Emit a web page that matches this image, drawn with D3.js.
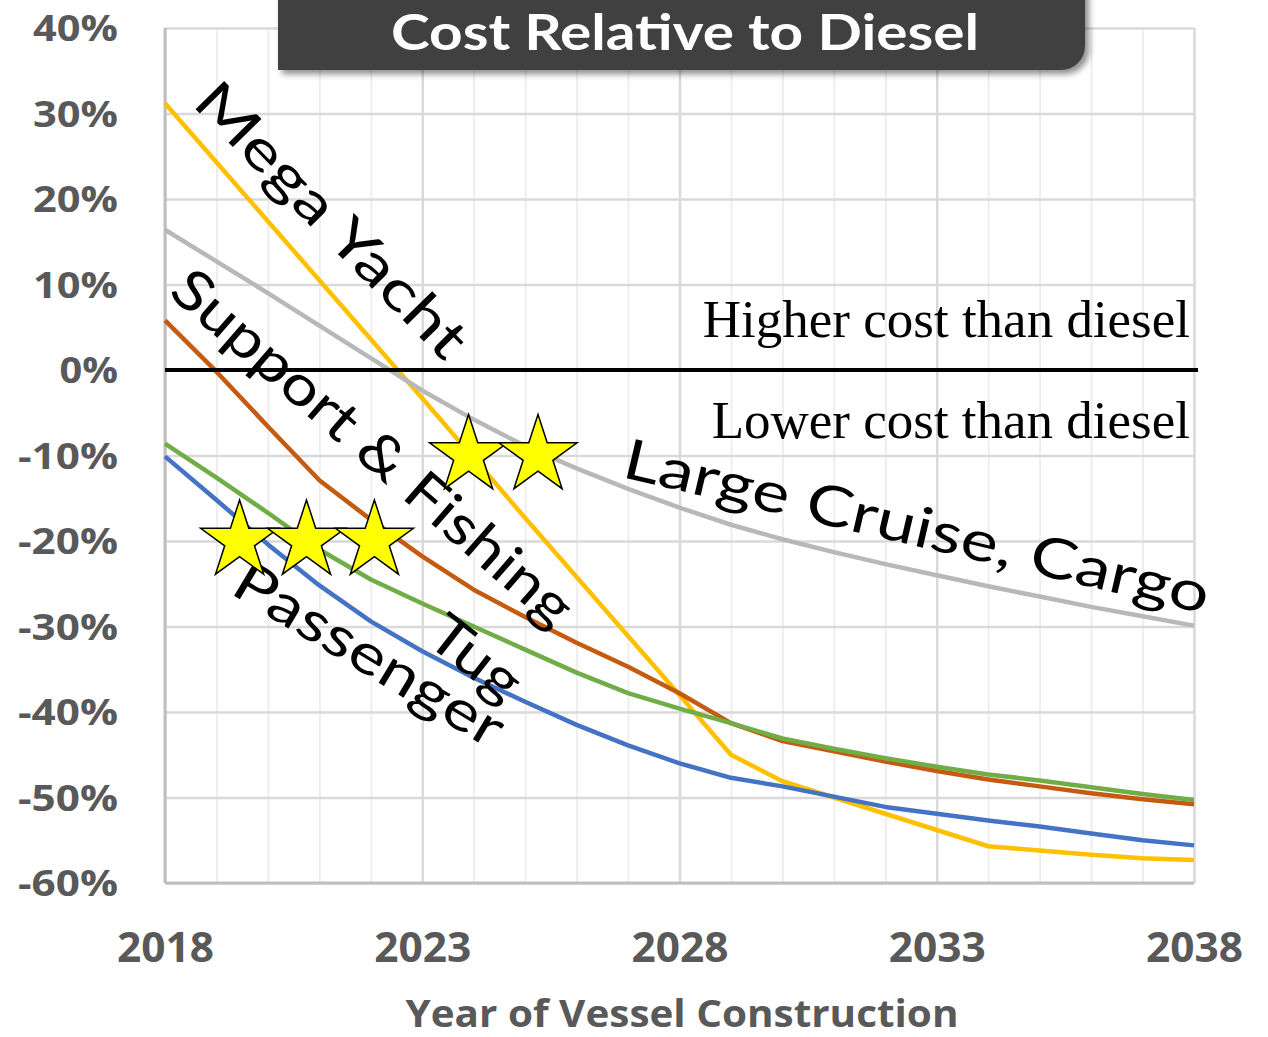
<!DOCTYPE html>
<html>
<head>
<meta charset="utf-8">
<script src="https://cdn.jsdelivr.net/npm/d3@7"></script>
<style>
  html, body { margin: 0; padding: 0; background: #fff; }
  svg { display: block; }
</style>
</head>
<body>
<svg id="chart" width="1268" height="1037"></svg>
<script>
// ---- data ----
const years = [2018, 2019, 2020, 2021, 2022, 2023, 2024, 2025, 2026, 2027, 2028,
               2029, 2030, 2031, 2032, 2033, 2034, 2035, 2036, 2037, 2038];
const megaYacht = [31.2, 24.3, 17.4, 10.5, 3.6, -3.3, -10.3, -17.3, -24.2, -31.1, -38.0,
                   -45.0, -48.1, -50.0, -51.9, -53.8, -55.7, -56.2, -56.7, -57.1, -57.3];
const largeCruiseCargo = [16.4, 12.7, 9.0, 5.2, 1.4, -2.4, -5.8, -8.9, -11.5, -13.9, -16.1,
                          -18.1, -19.8, -21.3, -22.7, -24.0, -25.3, -26.5, -27.7, -28.8, -29.9];
const supportFishing = [5.8, -0.2, -6.6, -12.9, -17.5, -21.8, -25.7, -28.9, -31.9, -34.7, -37.8,
                        -41.3, -43.4, -44.6, -45.8, -46.9, -47.9, -48.7, -49.5, -50.2, -50.8];
const tug = [-8.6, -12.6, -16.7, -21.0, -24.5, -27.3, -30.0, -32.7, -35.4, -37.8, -39.6,
             -41.3, -43.1, -44.3, -45.4, -46.4, -47.3, -48.0, -48.8, -49.6, -50.3];
const passenger = [-10.1, -15.2, -20.4, -25.2, -29.4, -32.9, -36.0, -38.8, -41.5, -43.9, -46.0,
                   -47.7, -48.7, -49.9, -51.1, -51.9, -52.7, -53.4, -54.2, -55.0, -55.6];

const yTicks = [40, 30, 20, 10, 0, -10, -20, -30, -40, -50, -60];
const xTicks = [2018, 2023, 2028, 2033, 2038];

// stars (year, value)
const starYears = [2023.9, 2025.25, 2019.45, 2020.75, 2022.07];
const starValues = [-10, -10, -20, -20, -20];

// ---- layout ----
const svg = d3.select("#chart");
const plotLeft = 165, plotRight = 1194, plotTop = 28, plotBottom = 883;

const x = d3.scaleLinear().domain([2018, 2038]).range([plotLeft, plotRight]);
const y = d3.scaleLinear().domain([-60, 40]).range([plotBottom, plotTop]);

// gridlines
svg.append("g")
  .attr("transform", `translate(0,${plotBottom})`)
  .call(d3.axisBottom(x).tickValues(years).tickSize(-(plotBottom - plotTop)).tickFormat(""))
  .call(g => g.select(".domain").remove())
  .selectAll("line")
  .attr("stroke", d => (d - 2018) % 5 === 0 ? "#d9d9d9" : "#eeeeee")
  .attr("stroke-width", d => (d - 2018) % 5 === 0 ? 2.5 : 2);

svg.append("g")
  .attr("transform", `translate(${plotLeft},0)`)
  .call(d3.axisLeft(y).tickValues(yTicks).tickSize(-(plotRight - plotLeft)).tickFormat(""))
  .call(g => g.select(".domain").remove())
  .selectAll("line")
  .attr("stroke", "#d9d9d9")
  .attr("stroke-width", 2.5);

// axis lines
svg.append("line").attr("x1", plotLeft).attr("x2", plotLeft).attr("y1", plotTop).attr("y2", plotBottom)
  .attr("stroke", "#bfbfbf").attr("stroke-width", 3);
svg.append("line").attr("x1", plotLeft).attr("x2", plotRight).attr("y1", plotBottom).attr("y2", plotBottom)
  .attr("stroke", "#bfbfbf").attr("stroke-width", 3);

// tick labels
const labelWidth = s => s.startsWith("-")
  ? 15 + 26.5 * (s.length - 2) + 32
  : 26.5 * (s.length - 1) + 32;

svg.append("g")
  .attr("transform", `translate(${plotLeft},0)`)
  .call(d3.axisLeft(y).tickValues(yTicks).tickSize(0).tickFormat(d => d + "%"))
  .call(g => g.select(".domain").remove())
  .selectAll("text")
  .attr("x", -47)
  .attr("dy", "0.36em")
  .attr("font-family", "'Open Sans', sans-serif")
  .attr("font-weight", 700)
  .attr("font-size", 35)
  .attr("fill", "#595959")
  .attr("textLength", function() { return labelWidth(this.textContent); })
  .attr("lengthAdjust", "spacingAndGlyphs");

svg.append("g")
  .attr("transform", `translate(0,${plotBottom})`)
  .call(d3.axisBottom(x).tickValues(xTicks).tickSize(0).tickFormat(d3.format("d")))
  .call(g => g.select(".domain").remove())
  .selectAll("text")
  .attr("y", 79)
  .attr("dy", 0)
  .attr("font-family", "'Open Sans', sans-serif")
  .attr("font-weight", 700)
  .attr("font-size", 42)
  .attr("fill", "#595959")
  .attr("textLength", 97)
  .attr("lengthAdjust", "spacingAndGlyphs");

svg.append("text")
  .attr("x", 682).attr("y", 1027)
  .attr("text-anchor", "middle")
  .attr("font-family", "'Open Sans', sans-serif")
  .attr("font-weight", 700)
  .attr("font-size", 37)
  .attr("fill", "#595959")
  .attr("textLength", 553)
  .attr("lengthAdjust", "spacingAndGlyphs")
  .text("Year of Vessel Construction");

// series
const series = [
  { name: "Mega Yacht", values: megaYacht, color: "#ffc000" },
  { name: "Large Cruise, Cargo", values: largeCruiseCargo, color: "#b8b8b8" },
  { name: "Support & Fishing", values: supportFishing, color: "#c55a11" },
  { name: "Tug", values: tug, color: "#70ad47" },
  { name: "Passenger", values: passenger, color: "#4472c4" }
];

const line = d3.line()
  .x((d, i) => x(years[i]))
  .y(d => y(d));

svg.append("g")
  .selectAll("path")
  .data(series)
  .enter()
  .append("path")
  .attr("d", d => line(d.values))
  .attr("fill", "none")
  .attr("stroke", d => d.color)
  .attr("stroke-width", 4.5)
  .attr("stroke-linejoin", "round");

// zero line
svg.append("line")
  .attr("x1", plotLeft).attr("x2", plotRight + 4)
  .attr("y1", y(0)).attr("y2", y(0))
  .attr("stroke", "#000").attr("stroke-width", 4);

// higher / lower notes
svg.append("text")
  .attr("x", 1190).attr("y", 337)
  .attr("text-anchor", "end")
  .attr("font-family", "'Liberation Serif', 'Times New Roman', serif")
  .attr("font-size", 53)
  .text("Higher cost than diesel");
svg.append("text")
  .attr("x", 1190).attr("y", 438)
  .attr("text-anchor", "end")
  .attr("font-family", "'Liberation Serif', 'Times New Roman', serif")
  .attr("font-size", 53)
  .text("Lower cost than diesel");

// rotated series labels
const seriesLabels = [
  { text: "Mega Yacht", year: 2021.25, value: 17.6, angle: 45.5, len: 362 },
  { text: "Support & Fishing", year: 2022.05, value: -9.0, angle: 41, len: 512 },
  { text: "Large Cruise, Cargo", year: 2032.62, value: -18.2, angle: 13.2, len: 600 },
  { text: "Tug", year: 2024.05, value: -33.6, angle: 38, len: 102 },
  { text: "Passenger", year: 2021.98, value: -33.2, angle: 31, len: 305 }
];

svg.append("g")
  .selectAll("text")
  .data(seriesLabels)
  .enter()
  .append("text")
  .attr("transform", d => `translate(${x(d.year)},${y(d.value)}) rotate(${d.angle})`)
  .attr("text-anchor", "middle")
  .attr("dy", "0.36em")
  .attr("font-family", "Lato, 'Noto Sans', sans-serif")
  .attr("font-size", 56)
  .attr("fill", "#000")
  .attr("textLength", d => d.len)
  .attr("lengthAdjust", "spacingAndGlyphs")
  .text(d => d.text);

// stars
const R = 41, r = R * 0.382;
const starPts = d3.range(10).map(i => {
  const a = -Math.PI / 2 + i * Math.PI / 5;
  const rr = i % 2 === 0 ? R : r;
  return [rr * Math.cos(a), rr * Math.sin(a)];
});
svg.append("g")
  .selectAll("polygon")
  .data(starYears)
  .enter()
  .append("polygon")
  .attr("points", starPts.map(p => p.join(",")).join(" "))
  .attr("transform", (d, i) => `translate(${x(d)},${y(starValues[i])})`)
  .attr("fill", "#ffff00")
  .attr("stroke", "#000")
  .attr("stroke-width", 1.5);

// title box
const defs = svg.append("defs");
const f = defs.append("filter").attr("id", "shadow")
  .attr("x", "-10%").attr("y", "-50%").attr("width", "120%").attr("height", "200%");
f.append("feDropShadow").attr("dx", 4).attr("dy", 4).attr("stdDeviation", 3)
  .attr("flood-color", "#000").attr("flood-opacity", 0.45);

svg.append("path")
  .attr("d", "M278,-20 H1085 V46 A24,24 0 0 1 1061,70 H278 Z")
  .attr("fill", "#404040")
  .attr("filter", "url(#shadow)");

svg.append("text")
  .attr("x", 685).attr("y", 50)
  .attr("text-anchor", "middle")
  .attr("font-family", "Lato, 'Open Sans', sans-serif")
  .attr("font-weight", 700)
  .attr("font-size", 50)
  .attr("fill", "#fff")
  .attr("textLength", 588)
  .attr("lengthAdjust", "spacingAndGlyphs")
  .text("Cost Relative to Diesel");
</script>
</body>
</html>
